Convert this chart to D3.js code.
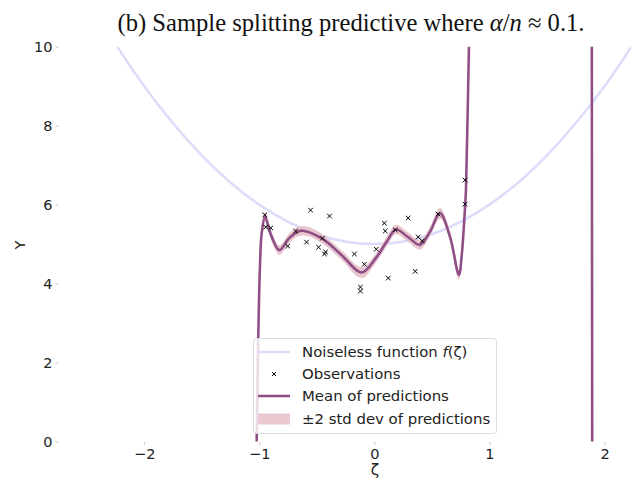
<!DOCTYPE html>
<html><head><meta charset="utf-8">
<script src="https://cdn.jsdelivr.net/npm/d3@7"></script>
<style>body{margin:0;background:#fff}svg{display:block}</style>
</head><body><svg id="c" width="631" height="483"></svg>
<script>
// ---- data ----
const xTicks = [-2, -1, 0, 1, 2];
const yTicks = [0, 2, 4, 6, 8, 10];
const noiseZeta = [-2.4, -2.0, -1.5, -1.0, -0.5, 0, 0.5, 1.0, 1.5, 2.0, 2.4];
const noiseF    = [10.76, 9.0, 7.25, 6.0, 5.25, 5.0, 5.25, 6.0, 7.25, 9.0, 10.76];
const obsZeta = [-0.952,-0.944,-0.900,-0.753,-0.684,-0.554,-0.589,-0.485,-0.450,-0.390,-0.424,-0.433,-0.173,-0.087,-0.121,-0.121,0.017,0.087,0.095,0.121,0.182,0.294,0.355,0.381,0.416,0.554,0.788,0.788];
const obsY    = [5.74,5.43,5.41,4.95,5.33,5.86,5.05,4.92,5.15,5.71,4.80,4.75,4.75,4.49,3.91,3.81,4.87,5.53,5.33,4.14,5.36,5.66,4.31,5.18,5.08,5.76,6.01,6.62];
const predZeta = [-1.03,-1.023,-1.009,-0.994,-0.979,-0.950,-0.898,-0.826,-0.740,-0.661,-0.618,-0.444,-0.284,-0.110,0.014,0.107,0.188,0.292,0.396,0.483,0.570,0.657,0.735,0.758,0.790,0.796,0.822,0.830,1.0,1.8,1.889,1.893,1.897];
const predMean = [-1.0,-0.09,2.57,4.43,5.27,5.69,5.23,4.85,5.15,5.32,5.34,5.12,4.72,4.28,4.65,5.06,5.37,5.18,4.98,5.31,5.78,5.19,4.22,4.68,6.03,6.37,10.0,11.0,60,60,11.0,0.0,-1.0];
const predStd  = [0.05,0.05,0.05,0.05,0.05,0.06,0.06,0.06,0.06,0.06,0.06,0.06,0.06,0.07,0.06,0.06,0.06,0.06,0.06,0.06,0.07,0.06,0.06,0.06,0.06,0.06,0.06,0.06,0.06,0.06,0.06,0.06,0.06];

// ---- layout ----
const svg = d3.select('#c');
const x = d3.scaleLinear().domain([-2.74, 2.23]).range([59, 631]);
const y = d3.scaleLinear().domain([0, 10]).range([441.5, 46.7]);
const font = "'DejaVu Sans', sans-serif";
const curve = d3.curveCatmullRom.alpha(0.5);

svg.append('defs').append('clipPath').attr('id','clip')
  .append('rect').attr('x',59).attr('y',46.7).attr('width',572).attr('height',394.8);

const plot = svg.append('g').attr('clip-path','url(#clip)');

// noiseless function
plot.append('path')
  .datum(noiseZeta.map((z,i)=>[z,noiseF[i]]))
  .attr('fill','none').attr('stroke','#dcdcfb').attr('stroke-width',2.5)
  .attr('d', d3.line().x(d=>x(d[0])).y(d=>y(d[1])).curve(d3.curveNatural));

const pred = predZeta.map((z,i)=>({z, m:predMean[i], s:predStd[i]}));
// band
plot.append('path').datum(pred)
  .attr('fill','#e6c1ca').attr('opacity',0.9)
  .attr('d', d3.area().x(d=>x(d.z)).y0(d=>y(d.m-2*d.s)).y1(d=>y(d.m+2*d.s)).curve(d3.curveMonotoneX));
// mean
plot.append('path').datum(pred)
  .attr('fill','none').attr('stroke','#8f4f86').attr('stroke-width',2.6)
  .attr('d', d3.line().x(d=>x(d.z)).y(d=>y(d.m)).curve(curve));

// observations
const xs = 2.3;
plot.append('g').selectAll('path').data(obsZeta.map((z,i)=>[z,obsY[i]])).join('path')
  .attr('d', d=>{const cx=x(d[0]), cy=y(d[1]); return `M${cx-xs},${cy-xs}L${cx+xs},${cy+xs}M${cx-xs},${cy+xs}L${cx+xs},${cy-xs}`;})
  .attr('stroke','#000').attr('stroke-width',1);

// axes
const xAxis = d3.axisBottom(x).tickValues(xTicks).tickSize(3).tickPadding(4)
  .tickFormat(d=> d<0 ? '\u2212'+Math.abs(d) : d);
const gx = svg.append('g').attr('transform','translate(0,442)').call(xAxis);
gx.select('.domain').remove();
gx.selectAll('line').attr('stroke','#c8c8c8');
gx.selectAll('text').attr('font-family',font).attr('font-size',14.5).attr('fill','#222');

const yAxis = d3.axisLeft(y).tickValues(yTicks).tickSize(3).tickPadding(3);
const gy = svg.append('g').attr('transform','translate(58.5,0)').call(yAxis);
gy.select('.domain').remove();
gy.selectAll('line').attr('stroke','#c8c8c8');
gy.selectAll('text').attr('font-family',font).attr('font-size',14.5).attr('fill','#222');

// axis labels
svg.append('text').attr('x',375).attr('y',475).attr('text-anchor','middle')
  .attr('font-family',font).attr('font-size',15.5).attr('fill','#222').text('ζ');
svg.append('text').attr('transform','translate(25,245) rotate(-90)').attr('text-anchor','middle')
  .attr('font-family',font).attr('font-size',14.5).attr('fill','#222').text('Y');

// title
const t = svg.append('text').attr('x',351).attr('y',31).attr('text-anchor','middle')
  .attr('font-family',"'Liberation Serif', 'DejaVu Serif', serif").attr('font-size',24.6).attr('fill','#111');
t.append('tspan').text('(b) Sample splitting predictive where ');
t.append('tspan').attr('font-style','italic').text('α');
t.append('tspan').text('/');
t.append('tspan').attr('font-style','italic').text('n');
t.append('tspan').text(' ≈ 0.1.');

// legend
const lg = svg.append('g');
lg.append('rect').attr('x',253.5).attr('y',338.5).attr('width',243).attr('height',95).attr('rx',3)
  .attr('fill','#fff').attr('fill-opacity',0.8).attr('stroke','#dcdcdc').attr('stroke-width',1);
const rows = [352, 374, 396, 419];
const hx0 = 258, hx1 = 290, tx = 302;
lg.append('line').attr('x1',hx0).attr('x2',hx1).attr('y1',rows[0]).attr('y2',rows[0]).attr('stroke','#dcdcfb').attr('stroke-width',2.5);
{ const cx=(hx0+hx1)/2, cy=rows[1], s=2;
  lg.append('path').attr('d',`M${cx-s},${cy-s}L${cx+s},${cy+s}M${cx-s},${cy+s}L${cx+s},${cy-s}`).attr('stroke','#000').attr('stroke-width',1); }
lg.append('line').attr('x1',hx0).attr('x2',hx1).attr('y1',rows[2]).attr('y2',rows[2]).attr('stroke','#8f4f86').attr('stroke-width',2.6);
lg.append('rect').attr('x',hx0).attr('y',rows[3]-5.5).attr('width',hx1-hx0).attr('height',11).attr('fill','#e9c9cf');
const labels = ['Noiseless function ', 'Observations', 'Mean of predictions', '±2 std dev of predictions'];
labels.forEach((l,i)=>{
  const tt = lg.append('text').attr('x',tx).attr('y',rows[i]+5.3).attr('font-family',font).attr('font-size',14.9).attr('fill','#222');
  tt.append('tspan').text(l);
  if(i===0){ tt.append('tspan').attr('font-style','italic').text('f'); tt.append('tspan').text('(ζ)'); }
});
</script></body></html>
